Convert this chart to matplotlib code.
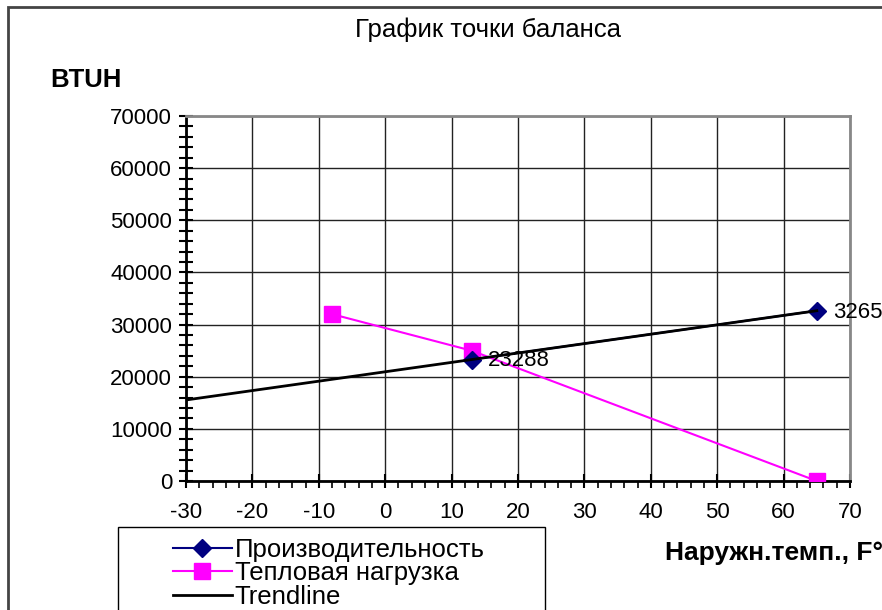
import matplotlib.pyplot as plt
from matplotlib.patches import Rectangle
from matplotlib.ticker import MultipleLocator

plt.rcParams['font.family'] = ['Liberation Sans', 'DejaVu Sans']
plt.rcParams['axes.unicode_minus'] = False

# performance points and heat-load points (outdoor temp F, BTUH)
perf_t = [13, 65]
perf_q = [23288, 32656]
load_t = [-8, 13, 65]
load_q = [32000, 25000, 0]

# linear trend through the performance points, extended left to -30
slope = (perf_q[1] - perf_q[0]) / (perf_t[1] - perf_t[0])
trend_t = [-30, 65]
trend_q = [perf_q[0] + slope * (t - perf_t[0]) for t in trend_t]

W, H = 882, 610
fig = plt.figure(figsize=(W / 100, H / 100), dpi=100)
ax = fig.add_axes([186 / W, 1 - 481 / H, (850 - 186) / W, (481 - 116) / H])

ax.plot(perf_t, perf_q, color='#000080', lw=1.5, marker='D', ms=9,
        label='Производительность', zorder=4)
ax.plot(load_t, load_q, color='#ff00ff', lw=1.5, marker='s', ms=11,
        label='Тепловая нагрузка', zorder=3)
ax.plot(trend_t, trend_q, color='black', lw=2, label='Trendline', zorder=5)

for t, q in zip(perf_t, perf_q):
    ax.annotate(str(q), (t, q), xytext=(12, -1), textcoords='offset points',
                va='center', ha='left', fontsize=16, annotation_clip=False,
                zorder=6)

ax.set_xlim(-30, 70)
ax.set_ylim(0, 70000)
ax.xaxis.set_major_locator(MultipleLocator(10))
ax.xaxis.set_minor_locator(MultipleLocator(2))
ax.yaxis.set_major_locator(MultipleLocator(10000))
ax.yaxis.set_minor_locator(MultipleLocator(2000))
ax.tick_params(axis='both', which='both', labelsize=16, color='black')
ax.tick_params(axis='y', which='both', direction='inout', length=10, width=1.5)
ax.tick_params(axis='x', which='major', direction='inout', length=10, width=1.5)
ax.tick_params(axis='x', which='minor', direction='out', length=5, width=1.2)
ax.tick_params(axis='x', pad=10)
ax.tick_params(axis='y', pad=5)
ax.grid(True, which='major', color='#222222', lw=1)

for side in ('left', 'bottom'):
    ax.spines[side].set_color('black')
    ax.spines[side].set_linewidth(2)
for side in ('top', 'right'):
    ax.spines[side].set_color('#888888')
    ax.spines[side].set_linewidth(2)

# outer chart frame
fig.patches.append(Rectangle((8 / W, -0.1), 1.2, 1 - 7 / H + 0.1,
                             transform=fig.transFigure, fill=False,
                             edgecolor='#444444', lw=2))

fig.text(488 / W, 1 - 30 / H, 'График точки баланса', ha='center',
         va='center', fontsize=18.5)
fig.text(50 / W, 1 - 80 / H, 'BTUH', ha='left', va='center',
         fontsize=18.5, fontweight='bold')
fig.text(665 / W, 1 - 553 / H, 'Наружн.темп., F°', ha='left', va='center',
         fontsize=19, fontweight='bold')

# legend box
fig.patches.append(Rectangle((118 / W, -0.1), (545 - 118) / W, 1 - 527 / H + 0.1,
                             transform=fig.transFigure, fill=False,
                             edgecolor='black', lw=1))
fig.legend(loc='upper left', bbox_to_anchor=(160 / W, 1 - 525 / H),
           frameon=False, fontsize=18.5, handlelength=2.3, handletextpad=0.1,
           labelspacing=-0.02, borderpad=0)

fig.savefig('out.png', dpi=100)
